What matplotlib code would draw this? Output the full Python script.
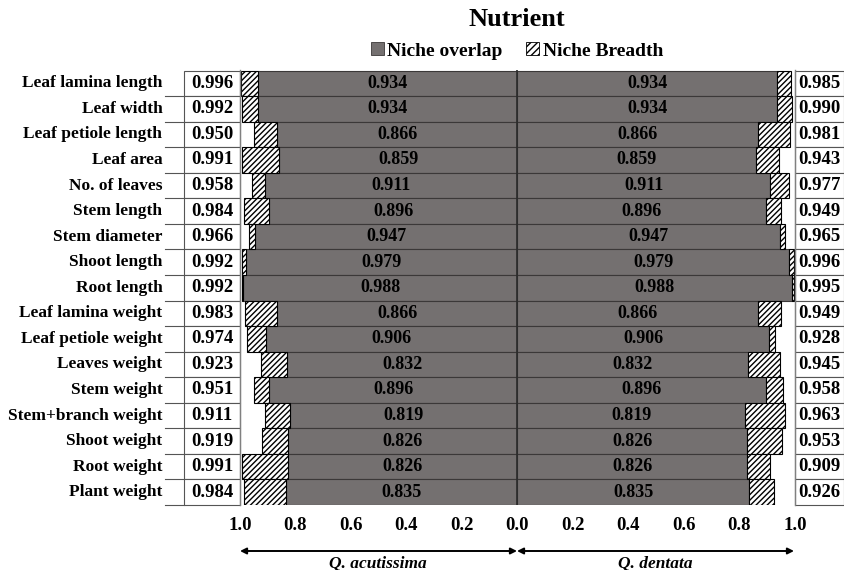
import matplotlib
matplotlib.use('Agg')
import matplotlib.pyplot as plt
from matplotlib.patches import Patch, Rectangle

plt.rcParams['font.family'] = ['Liberation Serif', 'DejaVu Serif']
plt.rcParams['font.weight'] = 'bold'
plt.rcParams['hatch.linewidth'] = 1.0

# data
traits = ['Leaf lamina length', 'Leaf width', 'Leaf petiole length', 'Leaf area',
          'No. of leaves', 'Stem length', 'Stem diameter', 'Shoot length',
          'Root length', 'Leaf lamina weight', 'Leaf petiole weight',
          'Leaves weight', 'Stem weight', 'Stem+branch weight', 'Shoot weight',
          'Root weight', 'Plant weight']
overlap = [0.934, 0.934, 0.866, 0.859, 0.911, 0.896, 0.947, 0.979, 0.988,
           0.866, 0.906, 0.832, 0.896, 0.819, 0.826, 0.826, 0.835]
breadth_acutissima = [0.996, 0.992, 0.950, 0.991, 0.958, 0.984, 0.966, 0.992, 0.992,
                      0.983, 0.974, 0.923, 0.951, 0.911, 0.919, 0.991, 0.984]
breadth_dentata = [0.985, 0.990, 0.981, 0.943, 0.977, 0.949, 0.965, 0.996, 0.995,
                   0.949, 0.928, 0.945, 0.958, 0.963, 0.953, 0.909, 0.926]
tick_vals = [-1.0, -0.8, -0.6, -0.4, -0.2, 0.0, 0.2, 0.4, 0.6, 0.8, 1.0]

grey = '#747070'
W, H = 845, 570

fig = plt.figure(figsize=(8.45, 5.7), dpi=100)
ax = fig.add_axes([240 / W, 1 - 505 / H, 555 / W, 434.5 / H])

n = len(traits)
ys = list(range(n))

# grey overlap bars, both sides
ax.barh(ys, [-v for v in overlap], height=1.0, color=grey, edgecolor='#3b3838', linewidth=0.8)
ax.barh(ys, overlap, height=1.0, color=grey, edgecolor='#3b3838', linewidth=0.8)
# hatched breadth bars from overlap to breadth
ax.barh(ys, [-(b - o) for b, o in zip(breadth_acutissima, overlap)], left=[-o for o in overlap],
        height=1.0, color='white', edgecolor='black', hatch='//////', linewidth=0.8)
ax.barh(ys, [b - o for b, o in zip(breadth_dentata, overlap)], left=overlap,
        height=1.0, color='white', edgecolor='black', hatch='//////', linewidth=0.8)

ax.axvline(0, color='#2b2b2b', linewidth=1.2)

ax.set_xlim(-1.0, 1.0)
ax.set_ylim(n - 0.5, -0.5)
for s in ['top', 'bottom']:
    ax.spines[s].set_visible(False)
for s in ['left', 'right']:
    ax.spines[s].set_color('#808080')
    ax.spines[s].set_linewidth(1.0)

ax.set_yticks([])
ax.set_xticks(tick_vals)
ax.set_xticklabels(['%.1f' % abs(v) for v in tick_vals], fontsize=13.5, fontweight='bold')
ax.tick_params(axis='x', length=0, pad=9)

# value labels in the bars
for i in range(n):
    ax.text(-overlap[i] / 2, i, '%.3f' % overlap[i], ha='center', va='center', fontsize=13)
    ax.text(overlap[i] / 2, i, '%.3f' % overlap[i], ha='center', va='center', fontsize=13)

# side boxes with breadth values and row labels
lb0, lb1 = -1.2, -1.0
rb0, rb1 = 1.0, 1.177
lab_x = -1.27
for i in range(n):
    ax.add_patch(Rectangle((lb0, i - 0.5), lb1 - lb0, 1.0, facecolor='white',
                           edgecolor='#555555', linewidth=0.8, clip_on=False))
    ax.add_patch(Rectangle((rb0, i - 0.5), rb1 - rb0, 1.0, facecolor='white',
                           edgecolor='#555555', linewidth=0.8, clip_on=False))
    ax.text((lb0 + lb1) / 2, i, '%.3f' % breadth_acutissima[i], ha='center', va='center', fontsize=13.5)
    ax.text((rb0 + rb1) / 2, i, '%.3f' % breadth_dentata[i], ha='center', va='center', fontsize=13.5)
    ax.text(-1.28, i, traits[i], ha='right', va='center', fontsize=12.5)
    ax.plot([lab_x, lb0], [i + 0.5, i + 0.5], color='#555555', linewidth=0.8, clip_on=False)

# title and legend
fig.text(517 / W, 1 - 20 / H, 'Nutrient', ha='center', va='center', fontsize=19, fontweight='bold')
handles = [Patch(facecolor=grey, edgecolor='#3b3838', linewidth=0.6),
           Patch(facecolor='white', edgecolor='black', hatch='/////', linewidth=0.6)]
fig.legend(handles, ['Niche overlap', 'Niche Breadth'], loc='center', ncol=2, frameon=False,
           bbox_to_anchor=(517 / W, 1 - 51 / H), handlelength=0.65,
           handleheight=0.65, handletextpad=0.2, columnspacing=1.2,
           prop={'weight': 'bold', 'size': 14})

# species arrows
ya = 1 - 551 / H
arrow = dict(arrowstyle='<|-|>', color='black', lw=1.4, mutation_scale=9, shrinkA=0, shrinkB=0)
fig.add_artist(matplotlib.patches.FancyArrowPatch((240 / W, ya), (517 / W, ya),
                                                  transform=fig.transFigure, **arrow))
fig.add_artist(matplotlib.patches.FancyArrowPatch((517 / W, ya), (794 / W, ya),
                                                  transform=fig.transFigure, **arrow))
fig.text(378 / W, 1 - 563 / H, 'Q. acutissima', ha='center', va='center', fontsize=12.5,
         fontstyle='italic', fontweight='bold')
fig.text(655 / W, 1 - 563 / H, 'Q. dentata', ha='center', va='center', fontsize=12.5,
         fontstyle='italic', fontweight='bold')

fig.savefig('out.png', dpi=100)
